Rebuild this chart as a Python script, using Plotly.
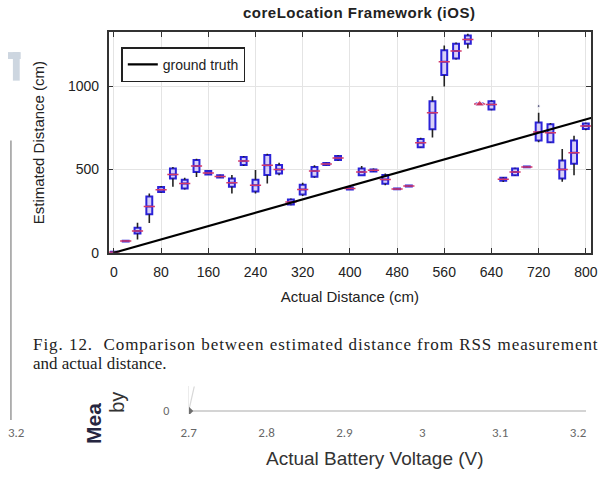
import plotly.graph_objects as go

W, H = 603, 480

# ---- main chart data (cm) ----
positions = [0, 20, 40, 60, 80, 100, 120, 140, 160, 180, 200, 220, 240, 260, 280, 300,
             320, 340, 360, 380, 400, 420, 440, 460, 480, 500, 520, 540, 560, 580, 600,
             620, 640, 660, 680, 700, 720, 740, 760, 780, 800]
low_whisker = [0, 66, 80, 178, 360, 396, 380, 455, 468, 448, 355, 520, 355, 416, 465, 285,
               340, 450, 525, 552, 378, 465, 485, 405, 380, 395, 630, 692, 998, 1160, 1225,
               890, 855, 425, 462, 512, 663, 660, 426, 465, 735]
q1 = [0, 68, 115, 231, 365, 446, 385, 485, 470, 452, 396, 527, 367, 467, 475, 290,
      349, 456, 527, 556, 380, 465, 488, 414, 381, 397, 633, 741, 1067, 1166, 1254,
      890, 860, 432, 465, 513, 673, 663, 446, 534, 742]
median = [3, 70, 130, 278, 378, 470, 415, 520, 478, 458, 420, 550, 405, 525, 500, 305,
          380, 490, 533, 568, 386, 485, 495, 440, 383, 400, 660, 840, 1146, 1210, 1280,
          893, 890, 441, 485, 515, 725, 720, 500, 600, 761]
q3 = [6, 72, 150, 337, 395, 505, 438, 556, 490, 465, 446, 574, 438, 586, 527, 320,
      408, 515, 538, 580, 392, 505, 500, 467, 386, 403, 682, 909, 1215, 1254, 1303,
      896, 909, 450, 505, 518, 781, 771, 554, 673, 775]
high_whisker = [8, 74, 180, 355, 400, 515, 450, 564, 492, 468, 467, 580, 497, 594, 540, 325,
                420, 525, 540, 585, 395, 520, 505, 475, 388, 405, 690, 939, 1244, 1262, 1314,
                896, 915, 455, 510, 520, 840, 778, 623, 702, 780]
outlier_x = [620, 720]
outlier_y = [893, 880]
truth_x = [0, 810]
truth_y = [0, 810]
x_ticks = [0, 80, 160, 240, 320, 400, 480, 560, 640, 720, 800]
y_ticks = [0, 500, 1000]

# ---- fragment of neighbouring figure ----
volt = [2.7, 2.708]
meas = [0, 14]
volt_ticks = [2.7, 2.8, 2.9, 3.0, 3.1, 3.2]
volt_labels = ["2.7", "2.8", "2.9", "3", "3.1", "3.2"]

fig = go.Figure()

# whiskers (black) built from the data arrays
wx, wy = [], []
for p, lo, a, b, hi in zip(positions, low_whisker, q1, q3, high_whisker):
    wx += [p, p, None, p, p, None]
    wy += [lo, a, None, b, hi, None]
fig.add_trace(go.Scatter(x=wx, y=wy, mode="lines", line=dict(color="#222222", width=1.6),
                         showlegend=False, hoverinfo="skip"))

fig.add_trace(go.Box(x=positions, q1=q1, median=median, q3=q3,
                     lowerfence=q1, upperfence=q3, width=10,
                     line=dict(color="#2b22d8", width=2), fillcolor="#d8d0f6",
                     showlegend=False, boxpoints=False, hoverinfo="skip"))

fig.add_trace(go.Scatter(x=positions, y=median, mode="markers",
                         marker=dict(symbol="line-ew", size=8, line=dict(color="#d23a6a", width=1.5)),
                         showlegend=False, hoverinfo="skip"))

fig.add_trace(go.Scatter(x=outlier_x, y=outlier_y, mode="markers",
                         marker=dict(symbol=["triangle-up", "circle"], size=[8, 3],
                                     color=["#e0304a", "#333366"]),
                         showlegend=False, hoverinfo="skip"))

fig.add_trace(go.Scatter(x=truth_x, y=truth_y, mode="lines", name="ground truth",
                         line=dict(color="black", width=2.2)))

# neighbouring figure fragment
fig.add_trace(go.Scatter(x=volt, y=meas, mode="lines", line=dict(color="#d8d8d8", width=1.2),
                         xaxis="x2", yaxis="y2", showlegend=False, hoverinfo="skip"))
fig.add_trace(go.Scatter(x=volt[:1], y=meas[:1], mode="markers",
                         marker=dict(symbol="diamond", size=7, color="#6e6e6e"),
                         xaxis="x2", yaxis="y2", showlegend=False, hoverinfo="skip"))

font_main = "Liberation Sans, Arial, sans-serif"
serif = "Liberation Serif, Times New Roman, serif"
light = "Carlito, Liberation Sans, sans-serif"

fig.update_layout(
    width=W, height=H,
    margin=dict(l=0, r=0, t=0, b=0),
    paper_bgcolor="white", plot_bgcolor="white",
    font=dict(family=font_main, color="#222222", size=14),
    xaxis=dict(domain=[103 / W, 597 / W], range=[-9, 809],
               tickvals=x_ticks, ticklabeloverflow="allow", ticklabelstandoff=6,
               ticks="inside", ticklen=5, tickcolor="#333", showline=True, linecolor="#333",
               linewidth=1.5, mirror="ticks", showgrid=True, gridcolor="#e4e4e4", gridwidth=1,
               zeroline=False, tickfont=dict(size=14),
               title=dict(text="Actual Distance (cm)", font=dict(size=15), standoff=12)),
    yaxis=dict(domain=[1 - 257 / H, 1 - 33 / H], range=[0, 1322],
               tickvals=y_ticks, ticks="inside", ticklen=5, tickcolor="#333",
               ticklabelstandoff=5,
               showline=True, linecolor="#333", linewidth=1.5, mirror="ticks",
               showgrid=True, gridcolor="#e4e4e4", zeroline=False, tickfont=dict(size=14),
               title=dict(text="Estimated Distance (cm)", font=dict(size=15), standoff=20)),
    xaxis2=dict(domain=[185 / W, 592 / W], range=[2.7, 3.2105], anchor="y2",
                tickvals=volt_ticks, ticktext=volt_labels, showgrid=False, zeroline=False,
                showline=False, ticks="", ticklabelstandoff=9,
                tickfont=dict(size=13, color="#666666", family=light)),
    yaxis2=dict(domain=[1 - 421 / H, 1 - 393 / H], range=[-1.5, 12.5], anchor="x2",
                tickvals=[0], showgrid=False, zeroline=True, zerolinecolor="#d4d4d4",
                zerolinewidth=1.5, showline=True, linecolor="#ececec", ticks="",
                ticklabelstandoff=16, tickfont=dict(size=12, color="#666666", family=light)),
    legend=dict(x=116 / W, y=1 - 48 / H, xanchor="left", yanchor="top",
                bgcolor="white", bordercolor="#222", borderwidth=1.5,
                font=dict(size=14), itemwidth=30, tracegroupgap=0),
    showlegend=True,
)

line1 = ('<span style="letter-spacing:0.95px">Fig. 12.&nbsp; Comparison between estimated '
         'distance from RSS measurement</span>')
title = '<span style="letter-spacing:0.5px"><b>coreLocation Framework (iOS)</b></span>'
ann = [
    dict(text=title, x=359 / W, y=1 - 13 / H, font=dict(size=15)),
    dict(text=line1, x=24 / W, y=1 - 350 / H, xanchor="left",
         font=dict(family=serif, size=17, color="#222")),
    dict(text="and actual distance.", x=24 / W, y=1 - 370 / H, xanchor="left",
         font=dict(family=serif, size=17, color="#222")),
    dict(text="<b>Mea</b>", x=88 / W, y=1 - 453 / H, textangle=-90, yanchor="bottom",
         font=dict(size=21, color="#262640")),
    dict(text="by", x=112 / W, y=1 - 422 / H, textangle=-90, yanchor="bottom",
         font=dict(size=20, color="#333")),
    dict(text="3.2", x=9 / W, y=1 - 440 / H,
         font=dict(size=13, color="#666", family=light)),
    dict(text="Actual Battery Voltage (V)", x=376 / W, y=1 - 466 / H,
         font=dict(size=19, color="#333")),
]
for a in ann:
    a.setdefault("xref", "paper")
    a.setdefault("yref", "paper")
    a.setdefault("showarrow", False)
    a.setdefault("yanchor", "middle")
    a.setdefault("xanchor", "center")
    fig.add_annotation(**a)

# page fragments at the left edge
fig.add_shape(type="line", xref="paper", yref="paper", x0=3 / W, x1=3 / W,
              y0=1 - 143 / H, y1=1 - 427 / H, line=dict(color="#9a9a9a", width=1.5))
fig.add_shape(type="rect", xref="paper", yref="paper", x0=0, x1=13 / W,
              y0=1 - 60 / H, y1=1 - 53 / H, line=dict(width=0), fillcolor="#cdd6e0")
fig.add_shape(type="rect", xref="paper", yref="paper", x0=5 / W, x1=12 / W,
              y0=1 - 82 / H, y1=1 - 53 / H, line=dict(width=0), fillcolor="#cdd6e0")

fig.write_html("out.html")
